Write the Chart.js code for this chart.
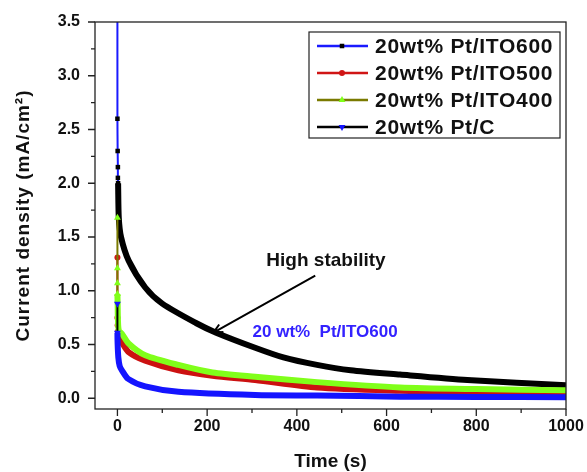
<!DOCTYPE html>
<html>
<head>
<meta charset="utf-8">
<script src="https://cdn.jsdelivr.net/npm/chart.js@4.4.0/dist/chart.umd.min.js"></script>
<style>
    html, body { margin: 0; padding: 0; background: #fff; }
    #wrap { width: 587px; height: 472px; }
</style>
</head>
<body>
<div id="wrap"><canvas id="myChart" width="587" height="472"></canvas></div>
<script>
// series labels
const etiquetas = ['20wt% Pt/ITO600', '20wt% Pt/ITO500', '20wt% Pt/ITO400', '20wt% Pt/C'];

// time (s) and current density (mA/cm2)
const t600 = [0, 0, 0.5, 1, 1, 1.5, 3, 8, 25, 62, 100, 175, 220, 307, 370, 445, 520, 630, 780, 1000];
const j600 = [3.8, 2.6, 2.3, 2.15, 2.05, 2.0, 1.68, 1.50, 1.28, 1.03, 0.88, 0.70, 0.61, 0.47, 0.38, 0.31, 0.26, 0.22, 0.17, 0.12];

const t500 = [0, 0, 0.5, 1, 3, 10, 25, 62, 136, 212, 307, 445, 630, 800, 1000];
const j500 = [1.31, 0.75, 0.68, 0.62, 0.58, 0.52, 0.43, 0.35, 0.26, 0.21, 0.17, 0.10, 0.07, 0.055, 0.045];

const t400 = [0, 0, 0, 0, 0.5, 1, 3, 10, 25, 62, 136, 212, 307, 445, 630, 800, 1000];
const j400 = [1.68, 1.21, 1.07, 0.97, 0.88, 0.75, 0.63, 0.60, 0.51, 0.40, 0.31, 0.24, 0.20, 0.15, 0.10, 0.085, 0.075];

const tC = [0, 0, 0.5, 2, 5, 10, 24, 62, 136, 307, 445, 630, 800, 1000];
const jC = [0.88, 0.61, 0.50, 0.38, 0.30, 0.26, 0.18, 0.11, 0.06, 0.03, 0.025, 0.015, 0.012, 0.01];

// ticks
const xTicks = [0, 200, 400, 600, 800, 1000];
const xMenores = [100, 300, 500, 700, 900];
const yTicks = [0.0, 0.5, 1.0, 1.5, 2.0, 2.5, 3.0, 3.5];
const yMenores = [0.25, 0.75, 1.25, 1.75, 2.25, 2.75, 3.25];

// estilos: color de linea (leyenda), color de la curva gruesa, marcador
const estilos = [
    { linea: '#1a1aff', curva: '#000000', marca: '#000000', punto: 'rect', rot: 0, r: 3.2, spike: 5, orden: 2 },
    { linea: '#d01515', curva: '#cc1111', marca: '#d01515', punto: 'circle', rot: 0, r: 3, spike: 3, orden: 3 },
    { linea: '#7a7a00', curva: '#80ff1a', marca: '#80ff1a', punto: 'triangle', rot: 0, r: 4, spike: 3, orden: 1 },
    { linea: '#000000', curva: '#1414ff', marca: '#1414ff', punto: 'triangle', rot: 180, r: 4, spike: 1, orden: 0 }
];

const FUENTE = '"Liberation Sans", Arial, sans-serif';

function crearSerie(i, xs, ys) {
    const e = estilos[i];
    return {
        label: etiquetas[i],
        data: xs.map((x, k) => ({ x: x, y: ys[k] })),
        borderColor: e.curva,
        borderWidth: 6,
        tension: 0.25,
        order: e.orden,
        pointStyle: e.punto,
        pointRotation: e.rot,
        pointRadius: ctx => ctx.dataIndex <= e.spike && ctx.dataIndex > 0 || (i !== 0 && ctx.dataIndex === 0) ? e.r : 0,
        pointBackgroundColor: e.marca,
        pointBorderColor: e.marca,
        pointBorderWidth: 0,
        segment: {
            borderColor: ctx => ctx.p0DataIndex < e.spike ? e.linea : e.curva,
            borderWidth: ctx => ctx.p0DataIndex < e.spike ? 2 : 6
        }
    };
}

// marco, ticks menores, titulos, leyenda y anotaciones
const extras = {
    id: 'extras',
    afterDraw(chart) {
        const ctx = chart.ctx;
        const a = chart.chartArea;
        const sx = chart.scales.x;
        const sy = chart.scales.y;
        ctx.save();

        ctx.strokeStyle = '#222';
        ctx.lineWidth = 1.3;
        ctx.strokeRect(a.left, a.top, a.right - a.left, a.bottom - a.top);

        ctx.beginPath();
        yTicks.forEach(v => { const y = sy.getPixelForValue(v); ctx.moveTo(a.left - 7, y); ctx.lineTo(a.left, y); });
        yMenores.forEach(v => { const y = sy.getPixelForValue(v); ctx.moveTo(a.left - 4, y); ctx.lineTo(a.left, y); });
        xTicks.forEach(v => { const x = sx.getPixelForValue(v); ctx.moveTo(x, a.bottom); ctx.lineTo(x, a.bottom + 7); });
        xMenores.forEach(v => { const x = sx.getPixelForValue(v); ctx.moveTo(x, a.bottom); ctx.lineTo(x, a.bottom + 4); });
        ctx.stroke();

        // titulos de ejes
        ctx.fillStyle = '#111';
        ctx.textAlign = 'center';
        ctx.textBaseline = 'middle';
        ctx.font = 'bold 19px ' + FUENTE;
        ctx.fillText('Time (s)', (a.left + a.right) / 2, 462);
        ctx.save();
        ctx.translate(24, (a.top + a.bottom) / 2);
        ctx.rotate(-Math.PI / 2);
        ctx.letterSpacing = '1px';
        ctx.fillText('Current density (mA/cm²)', 0, 0);
        ctx.restore();

        // leyenda
        ctx.strokeStyle = '#222';
        ctx.lineWidth = 1.2;
        ctx.strokeRect(309, 32, 251, 106);
        ctx.font = 'bold 21px ' + FUENTE;
        ctx.textAlign = 'left';
        ctx.letterSpacing = '0.7px';
        estilos.forEach((e, i) => {
            const y = 46 + i * 27;
            ctx.strokeStyle = e.linea;
            ctx.lineWidth = 2.5;
            ctx.beginPath();
            ctx.moveTo(317, y);
            ctx.lineTo(368, y);
            ctx.stroke();
            ctx.fillStyle = e.marca;
            Chart.helpers.drawPoint(ctx, { pointStyle: e.punto, rotation: e.rot, radius: e.r, borderWidth: 0 }, 342, y);
            ctx.fillStyle = '#111';
            ctx.fillText(etiquetas[i], 375, y + 1);
        });
        ctx.letterSpacing = '0px';

        // anotaciones
        ctx.textAlign = 'center';
        ctx.fillStyle = '#111';
        ctx.font = 'bold 19px ' + FUENTE;
        ctx.fillText('High stability', sx.getPixelForValue(465), sy.getPixelForValue(1.28));

        const x0 = sx.getPixelForValue(441), y0 = sy.getPixelForValue(1.14);
        const x1 = sx.getPixelForValue(214), y1 = sy.getPixelForValue(0.61);
        const ang = Math.atan2(y1 - y0, x1 - x0);
        ctx.strokeStyle = '#000';
        ctx.lineWidth = 2;
        ctx.beginPath();
        ctx.moveTo(x0, y0);
        ctx.lineTo(x1, y1);
        ctx.moveTo(x1 - 10 * Math.cos(ang - 0.45), y1 - 10 * Math.sin(ang - 0.45));
        ctx.lineTo(x1, y1);
        ctx.lineTo(x1 - 10 * Math.cos(ang + 0.45), y1 - 10 * Math.sin(ang + 0.45));
        ctx.stroke();

        ctx.fillStyle = '#3322ff';
        ctx.font = 'bold 17px ' + FUENTE;
        ctx.fillText('20 wt%  Pt/ITO600', sx.getPixelForValue(463), sy.getPixelForValue(0.61));

        ctx.restore();
    }
};

const ctx = document.getElementById('myChart').getContext('2d');
const myChart = new Chart(ctx, {
    type: 'line',
    data: {
        datasets: [
            crearSerie(0, t600, j600),
            crearSerie(1, t500, j500),
            crearSerie(2, t400, j400),
            crearSerie(3, tC, jC)
        ]
    },
    options: {
        responsive: false,
        animation: false,
        devicePixelRatio: 1,
        layout: { padding: { left: 0, right: 21, top: 22, bottom: 0 } },
        plugins: {
            legend: { display: false },
            tooltip: { enabled: false }
        },
        scales: {
            x: {
                type: 'linear',
                min: -50,
                max: 1000,
                grid: { display: false },
                border: { display: false },
                afterBuildTicks: s => { s.ticks = xTicks.map(v => ({ value: v })); },
                afterFit: s => { s.height = 63; s.paddingLeft = 0; s.paddingRight = 0; },
                ticks: {
                    padding: 0,
                    maxRotation: 0,
                    color: '#111',
                    font: { family: FUENTE, size: 16, weight: 'bold' },
                    callback: v => String(v)
                }
            },
            y: {
                min: -0.1,
                max: 3.5,
                grid: { display: false },
                border: { display: false },
                afterBuildTicks: s => { s.ticks = yTicks.map(v => ({ value: v })); },
                afterFit: s => { s.width = 95; s.paddingTop = 0; s.paddingBottom = 0; },
                ticks: {
                    padding: 7,
                    color: '#111',
                    font: { family: FUENTE, size: 16, weight: 'bold' },
                    callback: v => Number(v).toFixed(1)
                }
            }
        }
    },
    plugins: [extras]
});
</script>
</body>
</html>
